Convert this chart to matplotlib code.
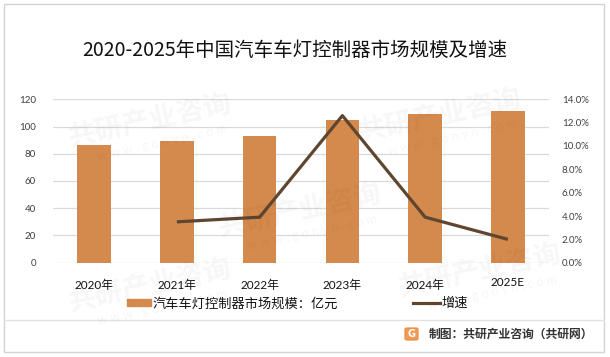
import matplotlib.pyplot as plt
from matplotlib.lines import Line2D
from matplotlib.patches import Rectangle, FancyBboxPatch
from matplotlib.ticker import FuncFormatter
import numpy as np

years = ["2020年", "2021年", "2022年", "2023年", "2024年", "2025E"]
market_size = [86.3, 89.3, 92.9, 104.6, 109.0, 111.2]   # 亿元
growth = [None, 0.035, 0.039, 0.126, 0.039, 0.020]

bar_color = "#D48A4D"
line_color = "#5E4630"
grid_color = "#D9D9D9"
txt_color = "#404040"
cjk = ["Lato", "Noto Sans CJK SC", "DejaVu Sans"]

W, H = 610, 357
fig = plt.figure(figsize=(W / 100, H / 100), dpi=100)

def fx(px):
    return px / W

def fy(py):
    return 1 - py / H

# faint watermarks
wm = [(150, 120), (440, 115), (300, 210), (480, 270), (150, 285)]
for x, y in wm:
    fig.text(fx(x), fy(y), "共研产业咨询", fontsize=20, fontweight="bold", color="#000000",
             alpha=0.035, rotation=12, ha="center", va="center", family=cjk)
    fig.text(fx(x + 12), fy(y + 22), "w w w . g o n y n . c o m", fontsize=9, color="#000000",
             alpha=0.04, rotation=12, ha="center", va="center", family=cjk)

ax = fig.add_axes([fx(52.7), fy(262.7), fx(549.3) - fx(52.7), fy(99.3) - fy(262.7)])
x = np.arange(len(years))
ax.bar(x, market_size, width=0.405, color=bar_color, zorder=2)
ax.set_xlim(-0.5, len(years) - 0.5)
ax.set_ylim(0, 120)
ax.set_yticks(np.arange(0, 121, 20))
ax.yaxis.grid(True, color=grid_color, linewidth=0.9, zorder=0)
ax.set_axisbelow(True)
for s in ax.spines.values():
    s.set_visible(False)
ax.tick_params(axis="y", length=0, labelsize=7, labelcolor=txt_color, pad=12)
ax.set_xticks([])
for lbl in ax.get_yticklabels():
    lbl.set_family(cjk)

# category labels (2025E sits a bit higher as in the source)
for i, yr in enumerate(years):
    off = -14.2 if yr.endswith("E") else -16.5
    ax.annotate(yr, xy=(i, 0), xycoords=("data", "axes fraction"),
                xytext=(0, off), textcoords="offset points",
                ha="center", va="center", fontsize=8.5, color="#111111", family=cjk)

ax2 = ax.twinx()
gx = [i for i, g in enumerate(growth) if g is not None]
gy = [g for g in growth if g is not None]
ax2.plot(gx, gy, color=line_color, linewidth=2.3, solid_capstyle="butt", zorder=3)
ax2.set_ylim(0, 0.14)
ax2.set_yticks(np.arange(0, 0.141, 0.02))
ax2.yaxis.set_major_formatter(FuncFormatter(lambda v, p: f"{v * 100:.1f}%"))
for s in ax2.spines.values():
    s.set_visible(False)
ax2.tick_params(axis="y", length=0, labelsize=7, labelcolor=txt_color, pad=9)
for lbl in ax2.get_yticklabels():
    lbl.set_family(cjk)

# title
fig.text(fx(295), fy(50), "2020-2025年中国汽车车灯控制器市场规模及增速", fontsize=14,
         ha="center", va="center", color="#111111", family=["Noto Sans CJK SC", "DejaVu Sans"])

# legend
fig.patches.append(Rectangle((fx(126.7), fy(305.5)), fx(150.7) - fx(126.7), fy(299) - fy(305.5),
                             transform=fig.transFigure, color=bar_color))
fig.text(fx(153), fy(303), "汽车车灯控制器市场规模：亿元", fontsize=9.5, ha="left", va="center",
         color="#111111", family=cjk)
fig.lines.append(Line2D([fx(413), fx(440)], [fy(302.5), fy(302.5)], transform=fig.transFigure,
                        color=line_color, linewidth=2.3))
fig.text(fx(441.5), fy(303), "增速", fontsize=9.5, ha="left", va="center",
         color="#111111", family=cjk)

# frame and footer
fig.patches.append(Rectangle((fx(4), fy(352)), fx(604) - fx(4), fy(4) - fy(352),
                             transform=fig.transFigure, fill=False, edgecolor="#D4D4D4", linewidth=1))
fig.lines.append(Line2D([fx(4), fx(604)], [fy(320), fy(320)], transform=fig.transFigure,
                        color="#E2E2E2", linewidth=1))
fig.patches.append(FancyBboxPatch((fx(405), fy(340)), fx(418) - fx(405), fy(328) - fy(340),
                                  boxstyle="round,pad=0,rounding_size=0.004",
                                  transform=fig.transFigure, color="#F08A3C", alpha=0.85))
fig.text(fx(411.5), fy(334), "G", fontsize=7, fontweight="bold", color="white",
         ha="center", va="center")
fig.text(fx(593), fy(334), "制图：共研产业咨询（共研网）", fontsize=8.5, fontweight="bold",
         ha="right", va="center", color="#333333", family=cjk)

fig.savefig("out.png", dpi=100)
